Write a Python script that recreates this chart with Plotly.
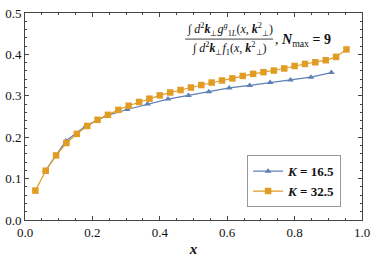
import plotly.graph_objects as go

K1 = 16.5
K2 = 32.5
k1 = list(range(1, 16))
k2 = list(range(1, 32))
x1 = [k / K1 for k in k1]
x2 = [k / K2 for k in k2]
y1 = [0.119, 0.191, 0.228, 0.252, 0.267, 0.280, 0.292, 0.301, 0.310, 0.319,
      0.325, 0.332, 0.338, 0.345, 0.356]
y2 = [0.071, 0.119, 0.156, 0.186, 0.208, 0.227, 0.242, 0.254, 0.266, 0.276,
      0.285, 0.293, 0.301, 0.308, 0.314, 0.320, 0.326, 0.332, 0.337, 0.342,
      0.348, 0.353, 0.357, 0.361, 0.366, 0.372, 0.377, 0.381, 0.386, 0.394, 0.412]
names = ["<b><i>K</i> = 16.5</b>", "<b><i>K</i> = 32.5</b>"]
xticks = [0.0, 0.2, 0.4, 0.6, 0.8, 1.0]
yticks = [0.0, 0.1, 0.2, 0.3, 0.4, 0.5]

blue = "#5E81B5"
orange = "#E19C24"
serif = "Liberation Serif, Times New Roman, serif"

fig = go.Figure()
fig.add_trace(go.Scatter(x=x1, y=y1, mode="lines+markers", name=names[0],
                         line=dict(color=blue, width=1.2),
                         marker=dict(symbol="triangle-up", size=6, color=blue)))
fig.add_trace(go.Scatter(x=x2, y=y2, mode="lines+markers", name=names[1],
                         line=dict(color=orange, width=1.2),
                         marker=dict(symbol="square", size=6.5, color=orange)))

axis_common = dict(showgrid=False, zeroline=False, showline=True, linecolor="#444",
                   linewidth=1, mirror="ticks", ticks="inside", ticklen=4,
                   tickcolor="#444", automargin=False,
                   tickfont=dict(family=serif, size=13, color="#111"))
fig.update_xaxes(range=[0, 1], tickvals=xticks, ticktext=[f"{v:.1f}" for v in xticks],
                 minor=dict(dtick=0.05, ticks="inside", ticklen=2, tickcolor="#444"),
                 title=dict(text="<b><i>x</i></b>", font=dict(family=serif, size=15, color="#111"),
                            standoff=4),
                 **axis_common)
fig.update_yaxes(range=[0, 0.5], tickvals=yticks, ticktext=[f"{v:.1f}" for v in yticks],
                 minor=dict(dtick=0.02, ticks="inside", ticklen=2, tickcolor="#444"),
                 **axis_common)

num = ("∫ <i>d</i><sup>2</sup><b><i>k</i></b><sub>⊥</sub><i>g</i><sup><i>g</i></sup>"
       "<sub>1<i>L</i></sub>(<i>x</i>, <b><i>k</i></b><sup>2</sup><sub>⊥</sub>)")
den = ("∫ <i>d</i><sup>2</sup><b><i>k</i></b><sub>⊥</sub><i>f</i><sub>1</sub>"
       "(<i>x</i>, <b><i>k</i></b><sup>2</sup><sub>⊥</sub>)")
nmax = ", <b><i>N</i></b><sub>max</sub><b> = 9</b>"
afont = dict(family=serif, size=12, color="#111")
fig.add_annotation(x=0.607, y=0.918, xref="paper", yref="paper", text=num,
                   showarrow=False, font=afont, xanchor="center", yanchor="middle")
fig.add_annotation(x=0.607, y=0.830, xref="paper", yref="paper", text=den,
                   showarrow=False, font=afont, xanchor="center", yanchor="middle")
fig.add_annotation(x=0.737, y=0.868, xref="paper", yref="paper", text=nmax,
                   showarrow=False, font=dict(family=serif, size=14, color="#111"),
                   xanchor="left", yanchor="middle")
fig.add_shape(type="line", xref="paper", yref="paper", x0=0.475, x1=0.736,
              y0=0.874, y1=0.874, line=dict(color="#111", width=0.8))

fig.update_layout(
    width=374, height=258,
    margin=dict(l=25, r=12, t=13, b=38),
    paper_bgcolor="white", plot_bgcolor="white",
    legend=dict(x=0.659, y=0.313, xanchor="left", yanchor="top",
                bordercolor="#999", borderwidth=1, bgcolor="white",
                font=dict(family=serif, size=13, color="#111"),
                itemwidth=30, tracegroupgap=0),
    showlegend=True,
)
fig.write_html("out.html", config={"displayModeBar": False},
               post_script="document.body.style.margin='0';")
